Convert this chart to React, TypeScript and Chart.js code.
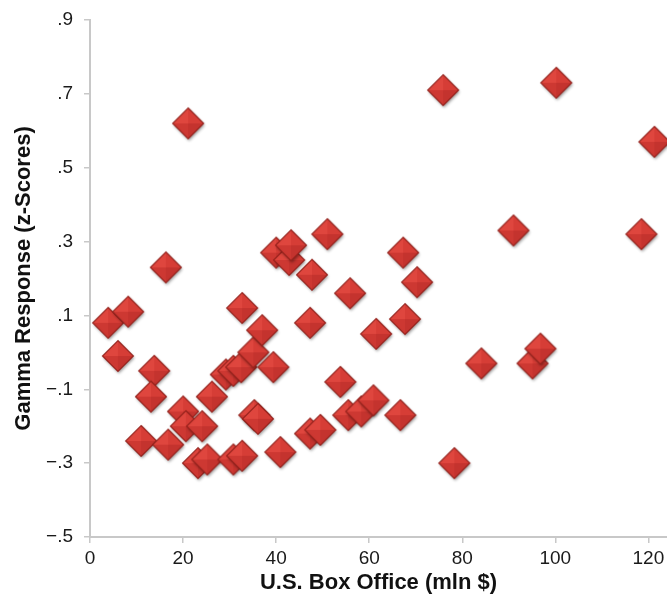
import { useEffect, useRef } from 'react';
import { Chart, registerables } from 'chart.js';

Chart.register(...registerables);

// U.S. box office (mln $) for each film
const boxOffice = [
  3.9, 8.2, 6.0, 13.8, 13.1, 16.3, 21.1, 11.0, 16.8, 20.0,
  20.6, 24.1, 23.2, 25.2, 26.2, 29.2, 30.8, 32.5, 32.7, 35.1,
  37.0, 39.4, 35.3, 36.1, 30.8, 32.7, 40.9, 40.0, 42.8, 43.2,
  47.7, 51.0, 47.3, 55.9, 53.8, 47.3, 49.5, 55.5, 58.3, 60.9,
  61.5, 67.3, 70.3, 67.7, 66.7, 75.9, 78.3, 84.1, 91.0, 95.1,
  96.8, 100.2, 118.5, 121.3,
];

// Gamma response (z-scores) for each film
const gammaResponse = [
  0.08, 0.11, -0.01, -0.05, -0.12, 0.23, 0.62, -0.24, -0.25, -0.16,
  -0.2, -0.2, -0.3, -0.29, -0.12, -0.06, -0.05, -0.04, 0.12, 0.0,
  0.06, -0.04, -0.17, -0.18, -0.29, -0.28, -0.27, 0.27, 0.25, 0.29,
  0.21, 0.32, 0.08, 0.16, -0.08, -0.22, -0.21, -0.17, -0.16, -0.13,
  0.05, 0.27, 0.19, 0.09, -0.17, 0.71, -0.3, -0.03, 0.33, -0.03,
  0.01, 0.73, 0.32, 0.57,
];

const xTickValues = [0, 20, 40, 60, 80, 100, 120];
const yTickValues = [-0.5, -0.3, -0.1, 0.1, 0.3, 0.5, 0.7, 0.9];

const xTitle = 'U.S. Box Office (mln $)';
const yTitle = 'Gamma Response (z-Scores)';

function formatY(v: number): string {
  const s = Math.abs(v).toFixed(1).replace(/^0/, '');
  return v < 0 ? '\u2212' + s : s;
}

function makeDiamond(): HTMLCanvasElement {
  const S = 40;
  const c = document.createElement('canvas');
  c.width = S;
  c.height = S;
  const ctx = c.getContext('2d')!;
  const cx = S / 2;
  const cy = S / 2;
  const r = 15.5;
  const T: [number, number] = [cx, cy - r];
  const R: [number, number] = [cx + r, cy];
  const B: [number, number] = [cx, cy + r];
  const L: [number, number] = [cx - r, cy];
  const path = () => {
    ctx.beginPath();
    ctx.moveTo(T[0], T[1]);
    ctx.lineTo(R[0], R[1]);
    ctx.lineTo(B[0], B[1]);
    ctx.lineTo(L[0], L[1]);
    ctx.closePath();
  };
  ctx.save();
  ctx.shadowColor = 'rgba(0,0,0,0.38)';
  ctx.shadowBlur = 3;
  ctx.shadowOffsetX = 1;
  ctx.shadowOffsetY = 2;
  path();
  ctx.fillStyle = '#c93530';
  ctx.fill();
  ctx.restore();
  const facet = (a: [number, number], b: [number, number], col: string) => {
    ctx.beginPath();
    ctx.moveTo(cx, cy);
    ctx.lineTo(a[0], a[1]);
    ctx.lineTo(b[0], b[1]);
    ctx.closePath();
    ctx.fillStyle = col;
    ctx.fill();
  };
  facet(L, T, '#df463e');
  facet(T, R, '#d63d36');
  facet(R, B, '#c4332e');
  facet(B, L, '#cd3832');
  path();
  ctx.lineWidth = 1.2;
  ctx.strokeStyle = 'rgba(140,30,25,0.85)';
  ctx.stroke();
  return c;
}

export default function App() {
  const ref = useRef<HTMLCanvasElement | null>(null);

  useEffect(() => {
    document.body.style.margin = '0';
    const canvas = ref.current;
    if (!canvas) return;
    const diamond = makeDiamond();
    const family = '"Liberation Sans", Arial, Helvetica, sans-serif';
    const axisColor = '#c8c8c8';
    const chart = new Chart(canvas, {
      type: 'scatter',
      data: {
        datasets: [
          {
            data: boxOffice.map((x, i) => ({ x, y: gammaResponse[i] })),
            pointStyle: diamond as any,
            pointRadius: 15,
            pointHoverRadius: 15,
            clip: false as any,
          },
        ],
      },
      options: {
        animation: false,
        responsive: false,
        devicePixelRatio: 1,
        layout: { autoPadding: false, padding: { top: 20, left: 0, right: 0, bottom: 0 } },
        plugins: { legend: { display: false }, tooltip: { enabled: false } },
        scales: {
          x: {
            type: 'linear',
            min: 0,
            max: 124,
            afterBuildTicks: (s: any) => {
              s.ticks = xTickValues.map((v) => ({ value: v }));
            },
            afterFit: (s: any) => {
              s.height = 64;
              s.paddingRight = 0;
              s.paddingLeft = 0;
            },
            grid: {
              display: true,
              drawOnChartArea: false,
              drawTicks: true,
              tickLength: 6,
              color: axisColor,
              tickColor: axisColor,
              lineWidth: 1.5,
            },
            border: { display: true, color: axisColor, width: 2 },
            ticks: {
              color: '#1a1a1a',
              font: { family, size: 19 },
              padding: 4,
              maxRotation: 0,
              autoSkip: false,
              callback: (v: any) => String(v),
            },
            title: {
              display: true,
              text: xTitle,
              color: '#111',
              font: { family, size: 22, weight: 'bold' },
              padding: { top: 0, bottom: 5 },
            },
          },
          y: {
            type: 'linear',
            min: -0.5,
            max: 0.9,
            afterBuildTicks: (s: any) => {
              s.ticks = yTickValues.map((v) => ({ value: v }));
            },
            afterFit: (s: any) => {
              s.width = 90;
              s.paddingTop = 0;
              s.paddingBottom = 0;
            },
            grid: {
              display: true,
              drawOnChartArea: false,
              drawTicks: true,
              tickLength: 6,
              color: axisColor,
              tickColor: axisColor,
              lineWidth: 1.5,
            },
            border: { display: true, color: axisColor, width: 2 },
            ticks: {
              color: '#1a1a1a',
              font: { family, size: 19 },
              padding: 11,
              autoSkip: false,
              callback: (v: any) => formatY(Number(v)),
            },
            title: {
              display: true,
              text: yTitle,
              color: '#111',
              font: { family, size: 22, weight: 'bold' },
              padding: { top: 11, bottom: 0 },
            },
          },
        },
      },
    });
    return () => chart.destroy();
  }, []);

  return (
    <div style={{ width: 667, height: 601, background: '#fff' }}>
      <canvas ref={ref} width={667} height={601} style={{ display: 'block' }} />
    </div>
  );
}
